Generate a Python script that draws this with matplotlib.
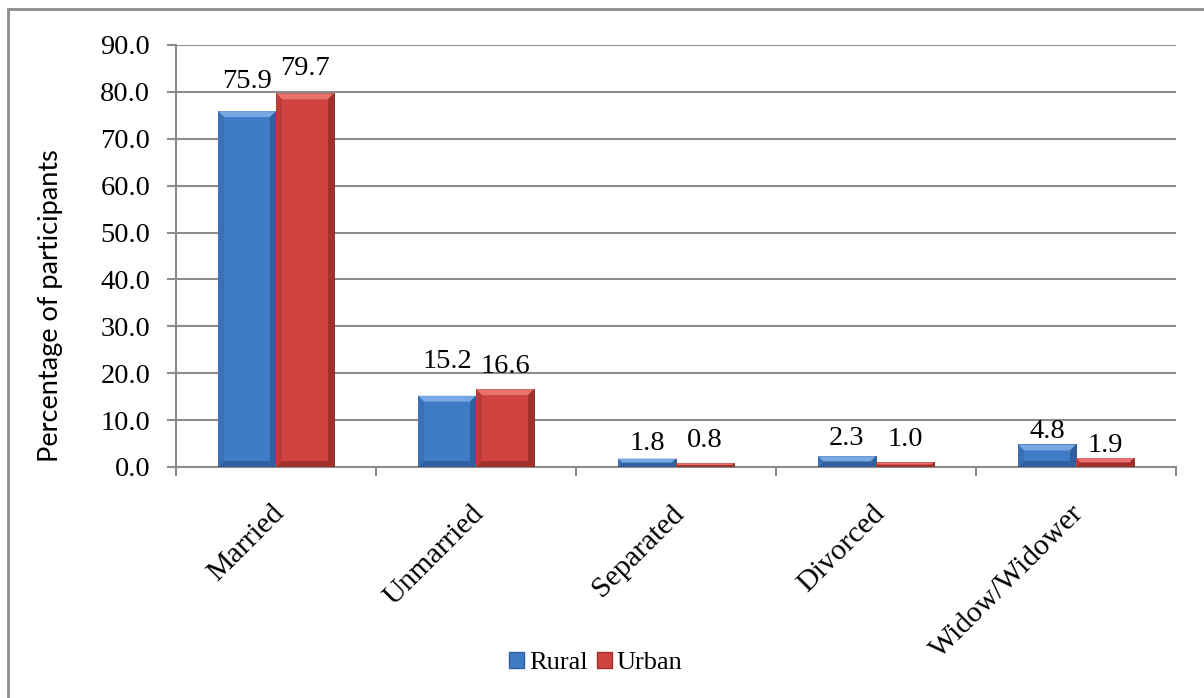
import matplotlib
matplotlib.use("Agg")
import matplotlib.pyplot as plt
import numpy as np
from matplotlib.patches import Polygon, Rectangle, Patch
from matplotlib.transforms import IdentityTransform, ScaledTranslation
from matplotlib.ticker import FormatStrFormatter

# ------------ data
categories = ["Married", "Unmarried", "Separated", "Divorced", "Widow/Widower"]
rural = [75.9, 15.2, 1.8, 2.3, 4.8]
urban = [79.7, 16.6, 0.8, 1.0, 1.9]
series_names = ["Rural", "Urban"]

# label lift above each bar (points)
rural_lift = [17, 20, 6.5, 8, 4.5]
urban_lift = [13, 11.5, 11.5, 12, 4.5]

# ------------ style
serif = "Liberation Serif"
fs = 20.5
blue = dict(face="#3f7bc7", light="#78a8e2", dark="#30619f", side="#3a70b5")
red = dict(face="#cf4340", light="#e8736f", dark="#a2302d", side="#bd3b38")
grid_col = "#8c8c8c"

fig = plt.figure(figsize=(12.04, 6.98), dpi=100)
ax = fig.add_axes([176 / 1204, 1 - 467 / 698, 1000 / 1204, 422 / 698])

x = np.arange(len(categories))
w = 0.29

bars_r = ax.bar(x - w / 2, rural, w, color=blue["face"], edgecolor="#234a7d", linewidth=0.6, zorder=3)
bars_u = ax.bar(x + w / 2, urban, w, color=red["face"], edgecolor="#7a2220", linewidth=0.6, zorder=3)

ax.set_xlim(-0.5, len(categories) - 0.5)
ax.set_ylim(0, 90)
ax.set_yticks(np.arange(0, 91, 10))
ax.yaxis.set_major_formatter(FormatStrFormatter("%.1f"))
ax.yaxis.grid(True, color=grid_col, linewidth=1.5, zorder=0)
ax.set_axisbelow(True)

for s in ["top", "right"]:
    ax.spines[s].set_visible(False)
for s in ["left", "bottom"]:
    ax.spines[s].set_color(grid_col)
    ax.spines[s].set_linewidth(1.5)

ax.tick_params(axis="y", length=6.5, width=1.5, color=grid_col, pad=12, labelsize=fs)
for t in ax.get_yticklabels():
    t.set_fontfamily(serif)

# category labels at centres, tick marks at the boundaries
ax.set_xticks(x)
ax.set_xticklabels(categories, rotation=45, ha="right", va="top",
                   rotation_mode="anchor", fontfamily=serif, fontsize=21.5)
ax.tick_params(axis="x", which="major", length=0, pad=24)
ax.set_xticks(np.arange(-0.5, len(categories)), minor=True)
ax.tick_params(axis="x", which="minor", length=6.5, width=1.5, color=grid_col)
nudge = ScaledTranslation(-5 / 100, 0, fig.dpi_scale_trans)
for t in ax.get_xticklabels():
    t.set_transform(t.get_transform() + nudge)


def bevel(rect, pal, d=6):
    x0, y0 = ax.transData.transform((rect.get_x(), rect.get_y()))
    x1, y1 = ax.transData.transform((rect.get_x() + rect.get_width(),
                                     rect.get_y() + rect.get_height()))
    d = min(d, (y1 - y0) / 2, (x1 - x0) / 2)
    faces = [
        ([(x0, y1), (x1, y1), (x1 - d, y1 - d), (x0 + d, y1 - d)], pal["light"]),
        ([(x0, y0), (x1, y0), (x1 - d, y0 + d), (x0 + d, y0 + d)], pal["dark"]),
        ([(x0, y0), (x0 + d, y0 + d), (x0 + d, y1 - d), (x0, y1)], pal["side"]),
        ([(x1, y0), (x1 - d, y0 + d), (x1 - d, y1 - d), (x1, y1)], pal["dark"]),
    ]
    for pts, c in faces:
        ax.add_patch(Polygon(pts, closed=True, facecolor=c, edgecolor="none",
                             transform=IdentityTransform(), zorder=4, clip_on=False))


for b in bars_r:
    bevel(b, blue)
for b in bars_u:
    bevel(b, red)

# value labels
for xi, v, lift in zip(x - w / 2, rural, rural_lift):
    ax.annotate(f"{v:.1f}", (xi, v), xytext=(0, lift), textcoords="offset points",
                ha="center", va="baseline", fontfamily=serif, fontsize=fs, zorder=5)
for xi, v, lift in zip(x + w / 2, urban, urban_lift):
    ax.annotate(f"{v:.1f}", (xi, v), xytext=(0, lift), textcoords="offset points",
                ha="center", va="baseline", fontfamily=serif, fontsize=fs, zorder=5)

fig.text(51 / 1204, 1 - 306 / 698, "Percentage of participants", rotation=90,
         ha="center", va="center", fontfamily="Lato", fontsize=19.5)

handles = [Patch(facecolor=blue["face"], edgecolor=blue["dark"]),
           Patch(facecolor=red["face"], edgecolor=red["dark"])]
fig.legend(handles, series_names, loc="center", bbox_to_anchor=(596 / 1204, 1 - 663 / 698),
           ncol=2, frameon=False, prop={"family": serif, "size": 19},
           handlelength=0.55, handleheight=0.55, handletextpad=0.2, columnspacing=0.35)

# outer chart frame
fig.patches.append(Rectangle((8 / 1204, -0.05), 1.2, 1 - 9 / 698 + 0.05, transform=fig.transFigure,
                             fill=False, edgecolor=grid_col, linewidth=2))

fig.savefig("out.png", dpi=100)
